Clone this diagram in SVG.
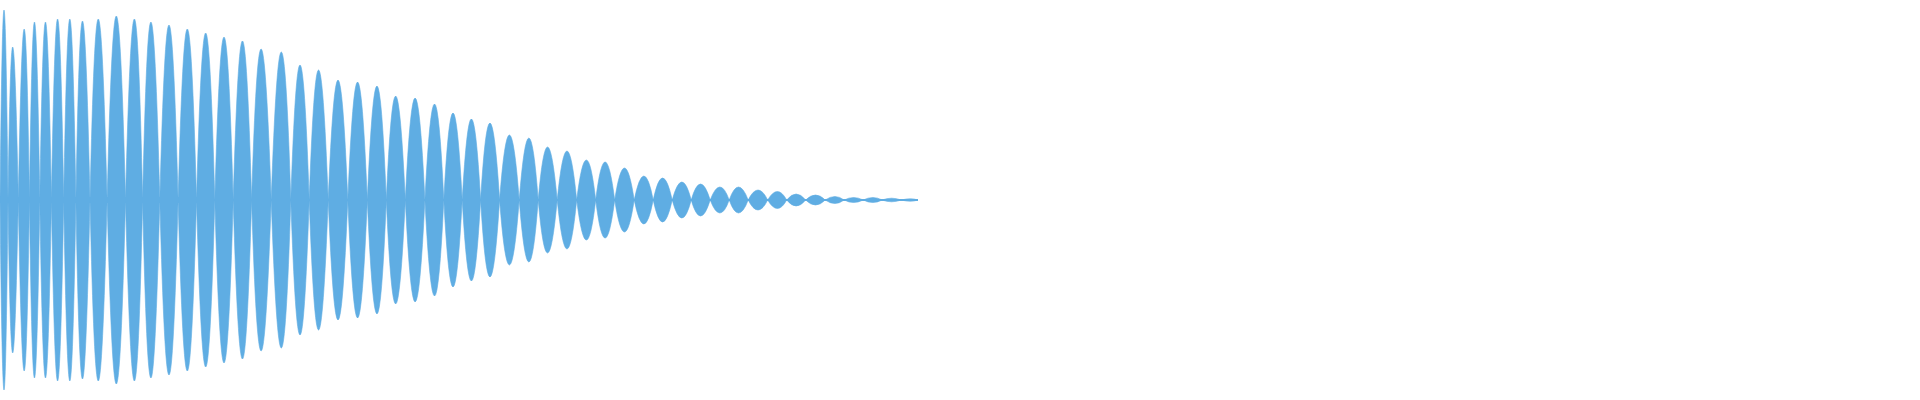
<svg xmlns="http://www.w3.org/2000/svg" width="1920" height="400" viewBox="0 0 1920 400">
<style>.w{fill:#5fade3;stroke:#5fade3;stroke-width:0.6}</style>
<rect width="1920" height="400" fill="#fff"/>
<path class="w" d="M0,200Q4,-180 8,200Q4,580 0,200Z
M8,200Q12.2,-106 18.3,200Q12.2,506 8,200Z
M18.3,200Q24.5,-142 29.4,200Q24.5,542 18.3,200Z
M29.4,200Q34.3,-156 39.8,200Q34.3,556 29.4,200Z
M39.8,200Q45.3,-156 51.4,200Q45.3,556 39.8,200Z
M51.4,200Q57.6,-162 63.7,200Q57.6,562 51.4,200Z
M63.7,200Q69.8,-162 75.9,200Q69.8,562 63.7,200Z
M75.9,200Q82,-158 90,200Q82,558 75.9,200Z
M90,200Q98,-162 107.1,200Q98,562 90,200Z
M107.1,200Q116.3,-168 125.5,200Q116.3,568 107.1,200Z
M125.5,200Q134.7,-162 142.6,200Q134.7,562 125.5,200Z
M142.6,200Q150.6,-156 159.8,200Q150.6,556 142.6,200Z
M159.8,200Q169,-150 178.1,200Q169,550 159.8,200Z
M178.1,200Q187.3,-142 196.5,200Q187.3,542 178.1,200Z
M196.5,200Q205.7,-134 214.8,200Q205.7,534 196.5,200Z
M214.8,200Q224,-126 233.2,200Q224,526 214.8,200Z
M233.2,200Q242.5,-118 251.6,200Q242.5,518 233.2,200Z
M251.6,200Q260.8,-102 271.2,200Q260.8,502 251.6,200Z
M271.2,200Q281.6,-96 290.8,200Q281.6,496 271.2,200Z
M290.8,200Q300,-70 309.2,200Q300,470 290.8,200Z
M309.2,200Q318.4,-60 328.2,200Q318.4,460 309.2,200Z
M328.2,200Q338,-40 347.8,200Q338,440 328.2,200Z
M347.8,200Q357.6,-36 367.3,200Q357.6,436 347.8,200Z
M367.3,200Q377.1,-28 386.3,200Q377.1,428 367.3,200Z
M386.3,200Q395.5,-8 405.3,200Q395.5,408 386.3,200Z
M405.3,200Q415.1,-4 424.9,200Q415.1,404 405.3,200Z
M424.9,200Q434.7,8 443.8,200Q434.7,392 424.9,200Z
M443.8,200Q453,26 462.2,200Q453,374 443.8,200Z
M462.2,200Q471.4,38 480.6,200Q471.4,362 462.2,200Z
M480.6,200Q489.8,46 499.6,200Q489.8,354 480.6,200Z
M499.6,200Q509.4,70 519.2,200Q509.4,330 499.6,200Z
M519.2,200Q529,76 538.2,200Q529,324 519.2,200Z
M538.2,200Q547.4,94 557.2,200Q547.4,306 538.2,200Z
M557.2,200Q567,102 576.7,200Q567,298 557.2,200Z
M576.7,200Q586.5,120 595.7,200Q586.5,280 576.7,200Z
M595.7,200Q605,124 614.7,200Q605,276 595.7,200Z
M614.7,200Q624.5,136 634.2,200Q624.5,264 614.7,200Z
M634.2,200Q644,152 653.2,200Q644,248 634.2,200Z
M653.2,200Q662.5,156 672.2,200Q662.5,244 653.2,200Z
M672.2,200Q682,164 691.2,200Q682,236 672.2,200Z
M691.2,200Q700.4,168 710.2,200Q700.4,232 691.2,200Z
M710.2,200Q720,174 729.2,200Q720,226 710.2,200Z
M729.2,200Q738.4,174 748.2,200Q738.4,226 729.2,200Z
M748.2,200Q758,180 767.7,200Q758,220 748.2,200Z
M767.7,200Q777.5,183 786.7,200Q777.5,217 767.7,200Z
M786.7,200Q796,188 805.7,200Q796,212 786.7,200Z
M805.7,200Q815.5,190 825.2,200Q815.5,210 805.7,200Z
M825.2,200Q835,193 844.2,200Q835,207 825.2,200Z
M844.2,200Q853.5,195 863.2,200Q853.5,205 844.2,200Z
M863.2,200Q873,195 882.2,200Q873,205 863.2,200Z
M882.2,200Q891.5,196.4 901.2,200Q891.5,203.6 882.2,200Z
M901.2,200Q911,197.6 918,200Q911,202.4 901.2,200Z"/>
<rect x="0" y="197" width="200" height="6" fill="#5fade3"/>
<rect x="200" y="199" width="718" height="2" fill="#5fade3"/>
</svg>
